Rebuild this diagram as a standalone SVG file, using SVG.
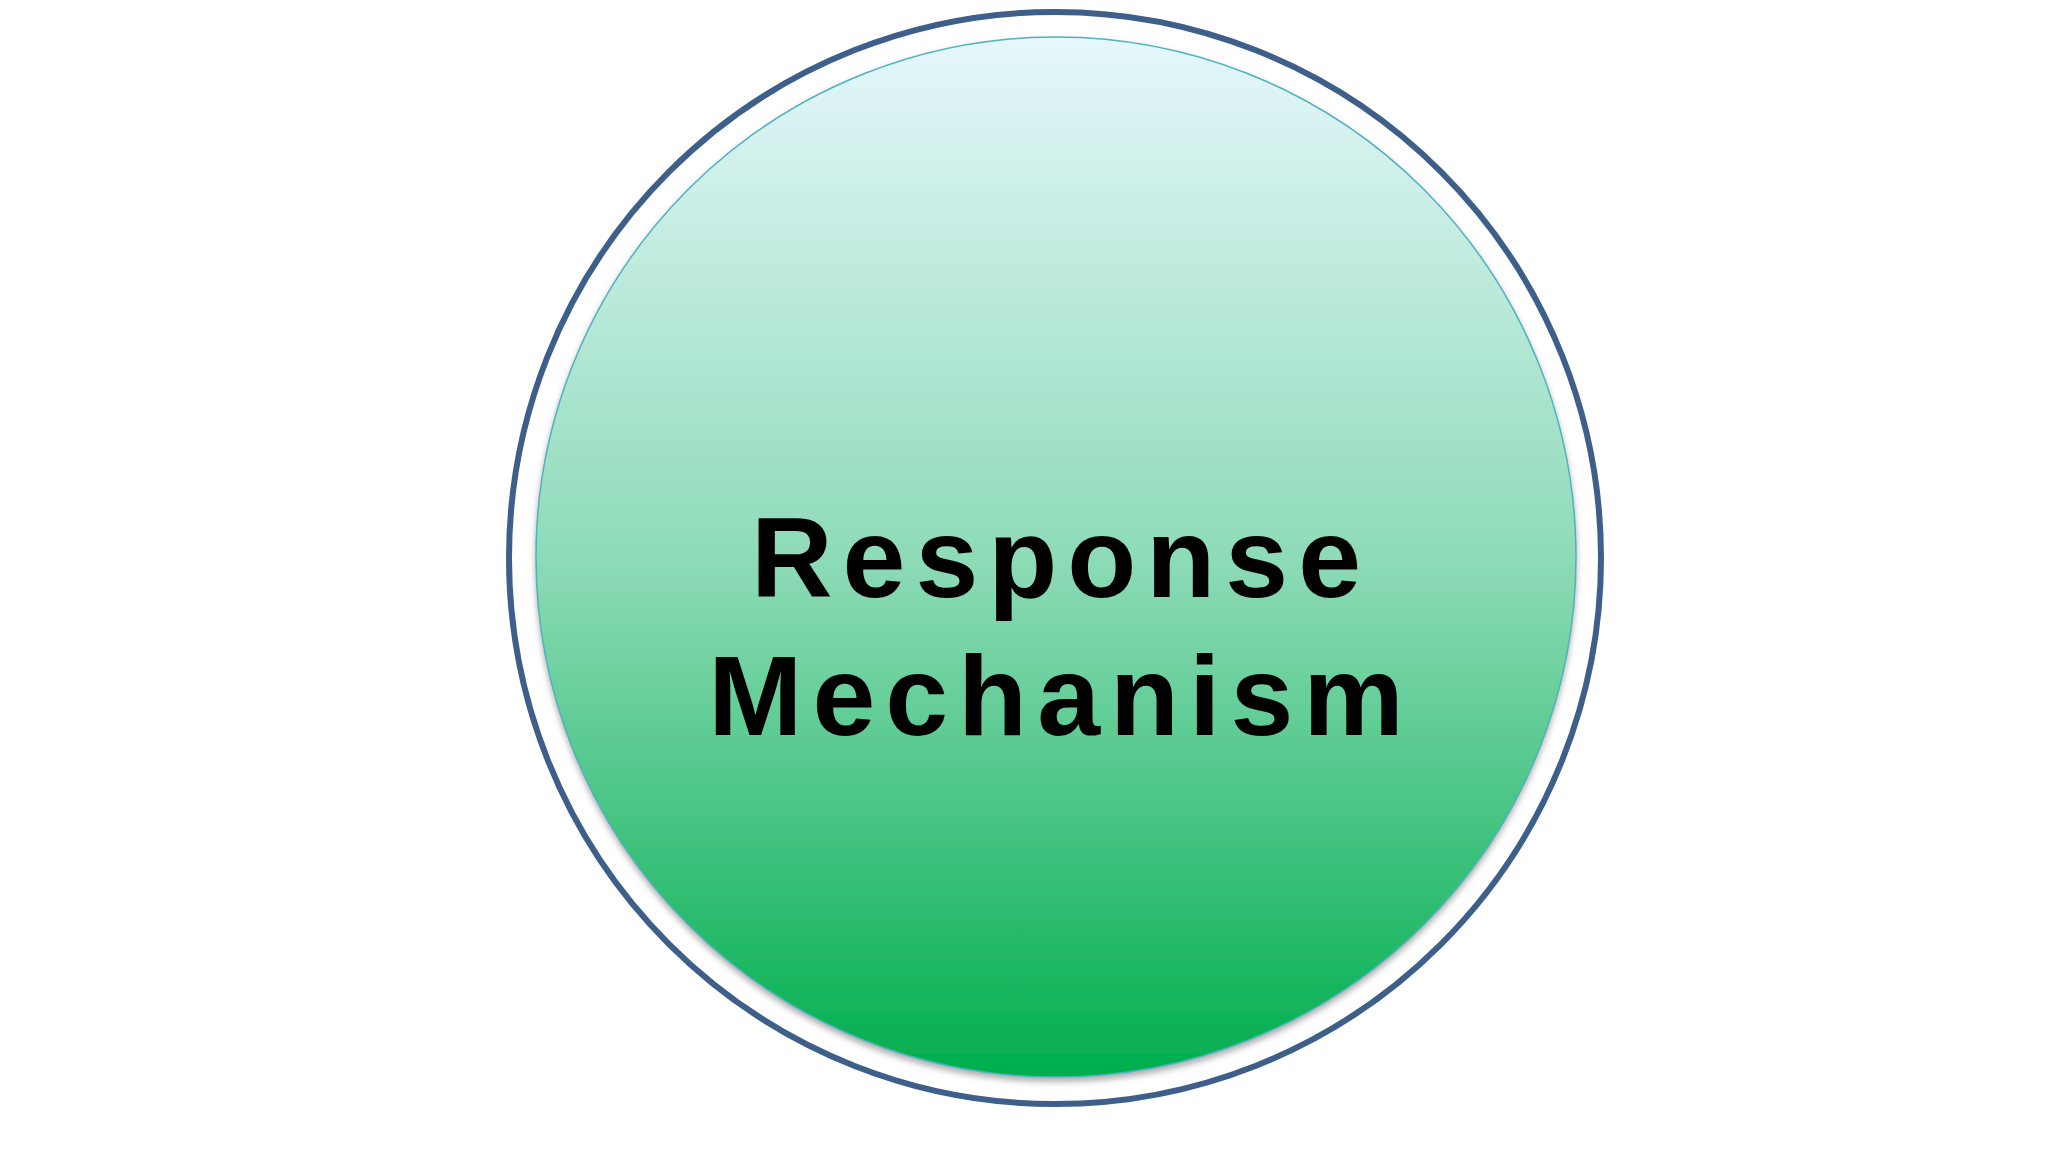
<svg xmlns="http://www.w3.org/2000/svg" width="2048" height="1152" viewBox="0 0 2048 1152">
<defs>
<linearGradient id="g" x1="0" y1="0" x2="0" y2="1">
<stop offset="0" stop-color="#e6f7fc"/>
<stop offset="0.5" stop-color="#8edbb8"/>
<stop offset="1" stop-color="#00ae4d"/>
</linearGradient>
<filter id="sh" x="-10%" y="-10%" width="120%" height="120%">
<feDropShadow dx="0" dy="4" stdDeviation="3" flood-color="#777" flood-opacity="0.6"/>
</filter>
<style>.t{font-family:"Liberation Sans",Arial,sans-serif;font-weight:bold;font-size:113px;fill:#000;letter-spacing:10px;text-anchor:middle}</style>
</defs>
<rect width="2048" height="1152" fill="#fff"/>
<g id="node-response">
<circle cx="1055" cy="558" r="546" fill="none" stroke="#3e5f8a" stroke-width="6"/>
<circle cx="1056" cy="557" r="520" fill="url(#g)" stroke="#4fb3bf" stroke-width="1.5" filter="url(#sh)"/>
<text class="t" x="1061" y="597">Response</text>
<text class="t" x="1061" y="735">Mechanism</text>
</g>
<g id="connectors"/>
</svg>
